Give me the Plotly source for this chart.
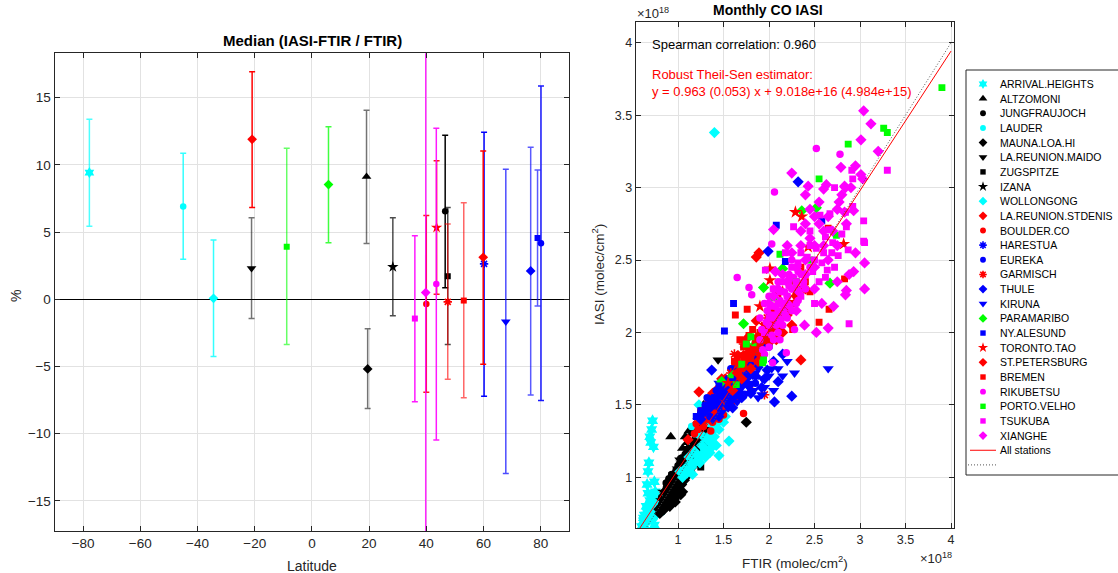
import plotly.graph_objects as go

W, H = 1118, 573
FONT = "Liberation Sans, Arial, sans-serif"
AXC = "#262626"
GRID = "#e2e2e2"

# ---------------- data: left panel (median relative difference, %) ----------------
STATIONS = ["ARRIVAL.HEIGHTS", "ALTZOMONI", "JUNGFRAUJOCH", "LAUDER", "MAUNA.LOA.HI",
            "LA.REUNION.MAIDO", "ZUGSPITZE", "IZANA", "WOLLONGONG", "LA.REUNION.STDENIS",
            "BOULDER.CO", "HARESTUA", "EUREKA", "GARMISCH", "THULE", "KIRUNA",
            "PARAMARIBO", "NY.ALESUND", "TORONTO.TAO", "ST.PETERSBURG", "BREMEN",
            "RIKUBETSU", "PORTO.VELHO", "TSUKUBA", "XIANGHE"]
LATITUDE = [-77.8, 19.1, 46.6, -45.0, 19.5, -21.1, 47.5, 28.3, -34.4, -20.9,
            40.0, 60.2, 80.1, 47.5, 76.5, 67.8, 5.8, 78.9, 43.6, 59.9,
            53.1, 43.5, -8.8, 36.0, 39.8]
MEDIAN = [9.42, 9.12, 6.55, 6.89, -5.19, 2.30, 1.71, 2.40, 0.07, 11.90,
          -0.35, 2.63, 4.17, -0.20, 2.10, -1.67, 8.53, 4.56, 5.33, 3.12,
          -0.10, 1.14, 3.91, -1.44, 0.49]
ERR_HIGH = [13.39, 14.06, 12.20, 10.86, -2.19, 6.07, 6.82, 6.07, 4.41, 16.93,
            6.22, 12.42, 15.87, 5.60, 11.31, 9.67, 12.84, 9.62, 10.31, 11.03,
            7.17, 12.72, 11.23, 4.73, 25.0]
ERR_LOW = [5.43, 4.14, 0.86, 2.97, -8.14, -1.44, -3.38, -1.24, -4.27, 6.82,
           -6.92, -7.22, -7.54, -5.95, -7.12, -12.98, 4.21, -0.50, 0.37, -4.84,
           -7.34, -10.47, -3.38, -7.64, -25.0]

# ---------------- data: right panel (FTIR, IASI) in units of 1e18 molec/cm2 ----------------
ARRIVAL_HEIGHTS = [(0.72, 1.39), (0.71, 1.33), (0.69, 1.28), (0.70, 1.24), (0.73, 1.21), (0.67, 1.04),
                   (0.74, 0.97), (0.67, 0.89), (0.69, 0.84), (0.65, 0.80), (0.63, 0.74), (0.74, 0.67),
                   (0.66, 0.76), (0.70, 0.82), (0.72, 0.87), (0.68, 0.71), (0.64, 0.69), (0.76, 0.80),
                   (0.78, 0.84), (0.62, 0.70), (0.71, 0.78), (0.60, 0.66), (0.62, 0.72), (0.65, 0.74),
                   (0.67, 0.78), (0.69, 0.80), (0.73, 0.85), (0.75, 0.90), (0.63, 0.67), (0.66, 0.71),
                   (0.70, 0.74), (0.68, 1.10), (0.66, 0.95)]
ALTZOMONI = [(0.92, 1.28), (1.10, 1.24), (1.15, 1.30), (1.20, 1.35), (1.25, 1.40), (1.30, 1.44),
             (1.35, 1.48), (1.28, 1.50), (1.22, 1.42), (1.18, 1.36), (1.40, 1.53), (1.12, 1.32),
             (1.05, 1.20), (1.08, 1.28), (1.17, 1.33), (1.26, 1.45), (1.32, 1.50), (1.37, 1.46)]
JUNGFRAUJOCH = [(0.85, 0.90), (0.88, 0.94), (0.92, 0.98), (0.95, 1.01), (0.98, 1.05), (1.02, 1.09),
                (1.05, 1.12), (1.08, 1.16), (1.12, 1.20), (1.15, 1.23), (0.90, 0.99), (1.00, 1.08),
                (1.10, 1.19), (0.87, 0.96), (0.93, 1.02), (0.97, 1.03), (1.03, 1.13), (1.07, 1.14),
                (1.13, 1.22), (0.82, 0.86)]
LAUDER = [(0.72, 0.70), (0.76, 0.74), (0.80, 0.78), (0.84, 0.80), (0.88, 0.84), (0.92, 0.88),
          (0.96, 0.91), (1.00, 0.95), (1.04, 0.99), (1.08, 1.03), (1.12, 1.07), (1.16, 1.10),
          (1.20, 1.14), (1.24, 1.19), (1.28, 1.22), (1.32, 1.26), (0.86, 0.86), (0.94, 0.94),
          (1.02, 1.02), (1.10, 1.10), (1.18, 1.17), (1.26, 1.25), (0.90, 0.82), (0.98, 0.89),
          (1.06, 0.97), (1.14, 1.04), (1.22, 1.12), (1.30, 1.20), (1.36, 1.30), (1.40, 1.35),
          (0.82, 0.76), (1.24, 1.37), (1.30, 1.40), (1.15, 1.35), (0.74, 0.72), (0.78, 0.77),
          (0.83, 0.79), (0.87, 0.83), (0.91, 0.86), (0.95, 0.92), (0.99, 0.96), (1.03, 1.00),
          (1.07, 1.05), (1.11, 1.08), (1.15, 1.12), (1.19, 1.15), (1.23, 1.21), (1.27, 1.26),
          (1.31, 1.29), (1.34, 1.33), (1.20, 1.26), (1.16, 1.22), (1.12, 1.18), (1.27, 1.32)]
MAUNA_LOA = [(0.80, 0.75), (0.83, 0.77), (0.86, 0.80), (0.89, 0.82), (0.92, 0.84), (0.95, 0.87),
             (0.98, 0.90), (1.01, 0.92), (1.04, 0.95), (1.07, 0.98), (1.10, 1.01), (1.13, 1.04),
             (1.17, 1.08), (1.21, 1.12), (0.88, 0.86), (0.94, 0.91), (1.00, 0.97), (1.06, 1.02),
             (1.12, 1.10), (1.25, 1.18), (1.30, 1.24), (0.97, 0.83), (1.03, 0.88), (1.75, 1.38),
             (0.84, 0.82), (1.05, 0.90), (0.79, 0.78), (0.82, 0.80), (0.85, 0.78), (0.87, 0.84),
             (0.90, 0.87), (0.93, 0.88), (0.96, 0.85), (0.99, 0.88), (1.02, 0.98), (1.08, 1.04),
             (1.14, 1.08), (1.18, 1.12), (0.91, 0.80), (0.95, 0.95), (1.00, 1.00), (1.10, 1.06)]
LA_REUNION_MAIDO = [(1.44, 1.81), (1.00, 1.05), (1.05, 1.10), (1.10, 1.15), (1.15, 1.19), (1.20, 1.24),
                    (1.25, 1.28), (1.30, 1.33), (1.35, 1.38), (1.08, 1.14), (1.18, 1.22), (1.28, 1.32),
                    (1.02, 1.12), (1.12, 1.20), (1.22, 1.30), (1.32, 1.40), (1.38, 1.45), (1.26, 1.36)]
ZUGSPITZE = [(0.88, 0.92), (0.92, 0.95), (0.96, 0.99), (1.00, 1.03), (1.04, 1.07), (1.08, 1.11),
             (1.12, 1.15), (1.16, 1.19), (1.20, 1.22), (1.25, 1.07), (0.94, 0.97), (1.06, 1.10),
             (0.90, 0.97), (0.98, 1.03), (1.02, 1.08), (1.10, 1.16), (1.14, 1.20), (1.18, 1.25)]
IZANA = [(0.82, 0.84), (0.86, 0.88), (0.90, 0.92), (0.94, 0.96), (0.98, 1.00), (1.02, 1.04),
         (1.06, 1.08), (1.10, 1.12), (1.14, 1.16), (1.18, 1.20), (1.22, 1.26), (1.00, 1.06),
         (0.84, 0.90), (0.92, 0.95), (0.96, 1.02), (1.04, 1.10), (1.08, 1.14), (1.12, 1.18),
         (1.16, 1.24)]
WOLLONGONG = [(1.05, 1.00), (1.10, 1.03), (1.15, 1.07), (1.20, 1.11), (1.25, 1.15), (1.30, 1.19),
              (1.35, 1.24), (1.40, 1.28), (1.45, 1.33), (1.50, 1.38), (1.56, 1.25), (1.45, 1.15),
              (1.40, 3.38), (1.18, 1.18), (1.28, 1.28), (1.38, 1.36), (1.48, 1.45), (1.22, 1.30),
              (1.33, 1.40), (1.12, 1.14), (1.02, 1.04), (1.42, 1.22), (1.35, 1.17), (1.52, 1.42),
              (1.23, 1.50), (1.28, 1.45), (1.08, 1.06), (1.14, 1.10), (1.20, 1.16), (1.26, 1.22),
              (1.32, 1.26), (1.38, 1.32), (1.44, 1.38), (1.24, 1.10), (1.30, 1.14), (1.36, 1.20),
              (1.16, 1.02)]
LA_REUNION_STDENIS = [(1.23, 1.59), (1.11, 1.26), (1.30, 1.42), (1.35, 1.47), (1.40, 1.52), (1.45, 1.58),
                      (1.50, 1.62), (1.55, 1.66), (1.60, 1.70), (1.65, 1.74), (1.70, 1.78), (1.80, 1.88),
                      (1.86, 2.52), (1.89, 2.55), (1.95, 2.02), (2.35, 1.81), (1.38, 1.58), (1.48, 1.68),
                      (1.32, 1.50), (1.42, 1.60), (1.52, 1.68), (1.62, 1.76), (1.72, 1.84), (1.58, 1.64),
                      (1.68, 1.70)]
BOULDER = [(1.20, 1.37), (1.25, 1.40), (1.30, 1.43), (1.35, 1.45), (1.40, 1.49), (1.45, 1.52),
           (1.50, 1.55), (1.55, 1.58), (1.60, 1.62), (1.65, 1.66), (1.70, 1.70), (1.38, 1.38),
           (1.48, 1.46), (1.58, 1.56), (1.68, 1.73), (1.75, 1.78), (1.42, 1.56), (1.52, 1.61),
           (1.62, 1.66), (1.33, 1.52), (1.28, 1.35), (1.72, 1.44), (1.36, 1.32), (1.45, 1.40),
           (1.55, 1.48), (1.65, 1.55), (1.80, 1.60), (1.25, 1.46), (1.18, 1.30), (1.50, 1.43),
           (1.22, 1.33), (1.27, 1.38), (1.32, 1.40), (1.37, 1.42), (1.42, 1.45), (1.47, 1.50),
           (1.52, 1.52), (1.57, 1.53), (1.62, 1.58), (1.67, 1.62), (1.30, 1.48), (1.35, 1.50),
           (1.40, 1.54), (1.45, 1.58), (1.55, 1.63), (1.60, 1.68), (1.70, 1.66), (1.75, 1.72),
           (1.40, 1.43), (1.60, 1.52)]
HARESTUA = [(1.40, 1.52), (1.50, 1.58), (1.60, 1.63), (1.70, 1.72), (1.80, 1.78), (1.90, 1.88),
            (2.00, 1.95), (1.65, 1.75), (1.75, 1.68), (1.55, 1.52), (1.85, 1.70), (1.45, 1.55),
            (1.62, 1.60), (1.72, 1.76), (1.82, 1.82), (1.58, 1.66)]
EUREKA = [(1.30, 1.50), (1.40, 1.55), (1.50, 1.60), (1.60, 1.65), (1.70, 1.70), (1.80, 1.75),
          (1.45, 1.48), (1.55, 1.68), (1.65, 1.62), (1.75, 1.80), (1.90, 1.85), (2.00, 1.90),
          (1.35, 1.42), (1.85, 1.65), (1.25, 1.44), (1.58, 1.75), (1.32, 1.55), (1.42, 1.60),
          (1.52, 1.64), (1.62, 1.70), (1.72, 1.75), (1.82, 1.80), (1.48, 1.53), (1.68, 1.66)]
GARMISCH = [(1.45, 1.55), (1.55, 1.62), (1.65, 1.70), (1.75, 1.80), (1.85, 1.92), (1.95, 2.00),
            (2.05, 2.10), (1.60, 1.68), (1.80, 1.85), (1.70, 1.75), (1.90, 1.96), (2.00, 2.05),
            (1.95, 1.57), (1.50, 1.50), (1.58, 1.72), (1.68, 1.80), (1.78, 1.90), (1.88, 1.98),
            (1.98, 2.10), (2.08, 2.18), (1.72, 1.68), (1.82, 1.78), (1.62, 1.85), (1.72, 1.92)]
THULE = [(1.25, 1.40), (1.35, 1.48), (1.37, 1.74), (1.45, 1.50), (1.55, 1.55), (1.65, 1.60),
         (1.75, 1.65), (1.85, 1.70), (2.06, 1.52), (2.25, 1.56), (1.95, 1.68), (2.32, 3.04),
         (1.99, 2.56), (1.60, 1.48), (1.70, 1.55), (1.50, 1.62), (2.05, 1.80), (2.15, 1.85),
         (1.28, 1.45), (1.38, 1.52), (1.48, 1.57), (1.58, 1.60), (1.68, 1.64), (1.78, 1.70),
         (1.88, 1.76), (1.98, 1.74), (1.62, 1.56), (1.80, 1.58), (1.92, 1.62), (2.10, 1.66),
         (1.45, 1.42)]
KIRUNA = [(1.30, 1.45), (1.40, 1.50), (1.50, 1.55), (1.60, 1.58), (1.70, 1.62), (1.80, 1.65),
          (1.88, 1.55), (2.00, 1.70), (1.65, 1.52), (1.75, 1.58), (2.10, 1.75), (1.55, 1.48),
          (2.65, 1.75), (1.45, 1.65), (1.95, 1.62), (1.85, 1.72), (2.20, 1.80), (1.35, 1.55),
          (1.62, 1.70), (2.05, 1.60), (1.92, 1.57), (1.33, 1.50), (1.43, 1.55), (1.53, 1.60),
          (1.63, 1.63), (1.73, 1.67), (1.83, 1.60), (1.93, 1.68), (2.03, 1.75), (1.48, 1.45),
          (1.58, 1.52), (1.68, 1.58), (1.78, 1.62), (1.38, 1.40), (2.15, 1.70), (2.28, 1.72)]
PARAMARIBO = [(2.52, 2.86), (2.36, 2.84), (2.15, 2.44), (2.67, 2.34), (1.94, 2.31), (1.72, 2.06),
              (1.69, 1.77), (1.60, 1.70), (2.20, 2.18), (1.85, 1.92), (1.48, 1.66)]
NY_ALESUND = [(1.20, 1.42), (1.30, 1.48), (1.40, 1.55), (1.50, 1.60), (1.60, 1.66), (1.70, 1.72),
              (1.51, 2.01), (1.61, 2.20), (2.08, 2.74), (2.18, 2.49), (1.80, 1.80), (1.90, 1.86),
              (2.00, 1.93), (1.45, 1.63), (1.55, 1.50), (2.58, 2.77), (1.25, 1.46), (1.35, 1.52),
              (1.45, 1.56), (1.55, 1.62), (1.65, 1.68), (1.75, 1.75), (1.85, 1.84), (1.95, 1.90)]
TORONTO_TAO = [(1.55, 1.65), (1.65, 1.78), (1.75, 1.85), (1.85, 1.95), (1.95, 2.05), (2.05, 2.15),
               (2.15, 2.28), (2.25, 2.35), (1.90, 2.18), (2.29, 2.83), (2.36, 2.80), (2.82, 2.61),
               (2.01, 2.44), (2.01, 2.36), (2.10, 2.27), (2.00, 1.98), (1.78, 1.88), (2.43, 2.59)]
ST_PETERSBURG = [(1.60, 1.60), (1.70, 1.68), (1.80, 1.75), (1.90, 1.85), (2.00, 1.93), (2.10, 2.02),
                 (2.20, 2.12), (1.75, 1.82), (1.95, 1.96), (2.05, 2.10), (2.30, 2.25), (1.65, 1.72),
                 (2.40, 2.30), (2.15, 2.00), (2.25, 2.05), (1.72, 1.76), (1.82, 1.86), (1.92, 1.94),
                 (2.02, 2.02), (2.12, 2.10), (2.22, 2.18), (1.88, 1.80), (2.08, 1.95), (1.66, 1.84),
                 (1.76, 1.96), (1.86, 2.08)]
BREMEN = [(1.70, 1.75), (1.80, 1.82), (1.90, 1.90), (2.00, 2.00), (2.10, 2.08), (2.20, 2.15),
          (2.30, 2.25), (2.40, 2.35), (2.45, 2.28), (1.95, 2.05), (2.15, 2.20), (2.35, 2.45),
          (2.83, 2.37), (2.65, 2.72), (1.63, 2.12), (2.66, 2.16), (2.26, 2.02), (1.85, 1.95),
          (2.05, 2.18), (1.76, 2.16), (2.55, 2.07), (1.75, 1.85), (1.85, 1.88), (1.95, 1.95),
          (2.05, 2.05), (2.15, 2.12), (2.25, 2.20), (2.35, 2.30), (2.00, 2.12), (2.10, 2.22),
          (1.90, 2.00), (1.62, 1.80), (1.72, 1.90), (1.82, 2.02), (1.68, 1.95), (1.78, 1.98)]
RIKUBETSU = [(2.06, 2.97), (2.03, 2.61), (1.65, 2.38), (1.78, 2.31), (1.81, 2.26), (2.52, 3.27),
             (2.78, 3.23), (1.90, 1.95), (1.95, 2.00), (2.00, 2.05), (2.05, 2.10),
             (2.10, 2.15), (2.15, 2.20), (2.20, 2.25), (2.25, 2.30), (2.30, 2.35), (2.35, 2.40),
             (1.95, 1.85), (2.05, 1.95), (2.15, 2.05), (2.25, 2.15), (2.19, 1.86), (2.04, 1.79),
             (1.90, 2.10), (2.00, 2.25), (2.10, 2.35), (2.40, 2.30),
             (2.12, 1.95), (2.28, 2.02), (1.98, 2.15), (2.08, 2.05), (2.18, 2.12),
             (2.32, 2.22), (2.22, 2.40), (2.45, 2.45), (1.92, 2.02),
             (1.97, 2.07), (2.02, 2.12), (2.07, 2.18), (2.12, 2.22), (2.17, 2.28), (2.22, 2.32),
             (2.27, 2.38), (2.32, 2.42), (1.93, 1.88), (2.03, 1.98), (2.13, 2.08), (2.23, 2.18),
             (2.33, 2.28), (1.95, 2.20), (2.05, 2.30), (2.15, 2.40), (2.25, 2.50),
             (2.38, 2.35), (2.00, 1.90), (2.10, 2.00), (2.20, 2.10), (2.30, 2.20)]
PORTO_VELHO = [(3.90, 3.69), (3.26, 3.41), (3.30, 3.38), (2.87, 3.30), (2.55, 3.06), (2.74, 2.67),
               (2.12, 2.54), (1.94, 1.81), (1.70, 1.78), (2.05, 2.24), (1.64, 1.64), (1.80, 1.97),
               (1.93, 1.79), (2.30, 2.35), (2.45, 2.50), (1.75, 1.92)]
TSUKUBA = [(3.30, 3.12), (2.91, 3.12), (2.92, 3.06), (2.72, 3.00), (2.92, 2.87), (2.84, 2.83),
           (3.04, 2.77), (2.85, 2.73), (2.67, 2.82), (2.56, 2.81), (3.04, 2.63), (2.87, 2.57),
           (2.69, 2.55), (3.05, 2.62), (2.66, 2.71), (2.76, 2.53), (2.64, 2.43), (2.88, 2.06),
           (2.27, 2.73), (2.45, 2.70), (1.96, 2.43), (2.00, 2.10), (2.10, 2.20), (2.20, 2.25),
           (2.30, 2.35), (2.40, 2.40), (2.50, 2.50), (2.60, 2.55), (2.25, 2.45), (2.35, 2.55),
           (2.15, 2.35), (1.95, 2.00), (2.05, 2.30), (2.45, 2.60), (2.55, 2.35), (2.35, 2.25),
           (2.62, 2.66), (2.50, 2.20), (2.18, 2.55), (2.02, 2.18), (2.12, 2.28), (2.22, 2.38),
           (2.32, 2.48), (2.42, 2.52), (2.52, 2.58), (2.38, 2.33), (2.48, 2.42), (2.58, 2.48),
           (2.28, 2.30), (2.18, 2.20), (2.08, 2.12), (2.70, 2.62), (2.80, 2.68), (2.62, 2.38),
           (2.72, 2.45)]
XIANGHE = [(3.04, 3.53), (3.12, 3.44), (3.01, 3.33), (3.20, 3.25), (2.79, 3.14), (3.01, 3.09),
           (3.03, 3.06), (2.63, 3.02), (2.60, 2.99), (2.84, 3.00), (2.77, 2.90), (2.25, 3.10),
           (2.83, 3.01), (2.93, 2.84), (2.83, 2.83), (2.93, 2.42), (3.05, 2.48), (3.05, 2.30),
           (2.85, 2.29), (2.84, 2.26), (2.71, 2.18), (2.65, 2.03), (2.52, 2.00), (2.39, 2.05),
           (2.05, 2.71), (2.07, 2.42), (2.43, 3.01), (2.00, 2.20), (2.10, 2.30), (2.20, 2.35),
           (2.30, 2.45), (2.40, 2.50), (2.50, 2.60), (2.60, 2.70), (2.20, 2.60), (2.35, 2.70),
           (2.45, 2.85), (2.55, 2.90), (2.65, 2.50), (2.75, 2.60), (2.15, 2.15),
           (2.30, 2.15), (2.50, 2.30), (2.85, 2.75), (2.40, 2.95), (2.05, 2.25),
           (2.15, 2.40), (2.25, 2.55), (2.35, 2.60), (2.45, 2.65), (2.55, 2.75), (2.65, 2.80),
           (2.75, 2.85), (2.30, 2.30), (2.40, 2.40), (2.50, 2.45), (2.60, 2.60), (2.70, 2.70),
           (2.80, 2.95), (2.90, 3.00), (2.95, 2.55), (2.88, 2.40), (2.20, 2.20), (2.10, 2.10),
           (2.58, 2.20), (2.75, 2.35), (2.40, 2.75), (2.50, 2.80), (2.95, 3.15)]

SCATTER_DATA = [ARRIVAL_HEIGHTS, ALTZOMONI, JUNGFRAUJOCH, LAUDER, MAUNA_LOA, LA_REUNION_MAIDO,
                ZUGSPITZE, IZANA, WOLLONGONG, LA_REUNION_STDENIS, BOULDER, HARESTUA, EUREKA,
                GARMISCH, THULE, KIRUNA, PARAMARIBO, NY_ALESUND, TORONTO_TAO, ST_PETERSBURG,
                BREMEN, RIKUBETSU, PORTO_VELHO, TSUKUBA, XIANGHE]

FIT_SLOPE = 0.963
FIT_INTERCEPT = 0.09018   # 9.018e16 in units of 1e18
LINE_X = [0.5, 4.0]

# ---------------- styles ----------------
CY, BK, RD, BL, GR, MG = "#00FFFF", "#000000", "#FF0000", "#0000FF", "#00FF00", "#FF00FF"
COLORS = [CY, BK, BK, CY, BK, BK, BK, BK, CY, RD, RD, BL, BL, RD, BL, BL, GR, BL, RD, RD, RD, MG, GR, MG, MG]
SYMBOLS = ["hexagram", "triangle-up", "circle", "circle", "diamond", "triangle-down", "square",
           "star", "diamond", "diamond", "circle", "asterisk-open", "circle", "asterisk-open",
           "diamond", "triangle-down", "diamond", "square", "star", "diamond", "square", "circle",
           "square", "square", "diamond"]
ERR_ALPHA = [0.7, 0.55, 1.0, 0.8, 0.55, 0.55, 0.7, 0.7, 0.8, 1.0, 0.9, 1.0, 0.9, 0.6, 0.65,
             0.7, 0.75, 0.65, 0.9, 1.0, 0.6, 0.9, 0.6, 0.9, 0.85]
SIZE_BY_SYMBOL = {"circle": 6.5, "square": 6, "diamond": 7.5, "triangle-up": 8.5, "triangle-down": 8.5,
                  "star": 8.5, "hexagram": 8.5, "asterisk-open": 7}


def rgba(hexc, a):
    h = hexc.lstrip("#")
    return "rgba(%d,%d,%d,%.2f)" % (int(h[0:2], 16), int(h[2:4], 16), int(h[4:6], 16), a)


def marker(sym, col, scale=1.0):
    m = dict(symbol=sym, color=col, size=SIZE_BY_SYMBOL[sym] * scale)
    if sym == "asterisk-open":
        m["line"] = dict(color=col, width=1.6)
    else:
        m["line"] = dict(width=0)
    return m


fig = go.Figure()

# ---------------- left panel ----------------
for i, name in enumerate(STATIONS):
    fig.add_trace(go.Scatter(
        x=[LATITUDE[i]], y=[MEDIAN[i]], mode="markers", showlegend=False, name=name,
        xaxis="x", yaxis="y",
        marker=marker(SYMBOLS[i], COLORS[i]),
        error_y=dict(type="data", symmetric=False,
                     array=[ERR_HIGH[i] - MEDIAN[i]], arrayminus=[MEDIAN[i] - ERR_LOW[i]],
                     color=rgba(COLORS[i], ERR_ALPHA[i]), thickness=1.5, width=3),
    ))

# ---------------- right panel ----------------
for i, name in enumerate(STATIONS):
    pts = SCATTER_DATA[i]
    fig.add_trace(go.Scatter(
        x=[p[0] for p in pts], y=[p[1] for p in pts], mode="markers", showlegend=False,
        name=name, xaxis="x2", yaxis="y2", marker=marker(SYMBOLS[i], COLORS[i], 1.15),
    ))

fig.add_trace(go.Scatter(x=LINE_X, y=LINE_X, mode="lines", xaxis="x2", yaxis="y2", showlegend=False,
                         line=dict(color="#555555", width=1, dash="1px,2px")))
fig.add_trace(go.Scatter(x=LINE_X, y=[FIT_SLOPE * v + FIT_INTERCEPT for v in LINE_X], mode="lines",
                         xaxis="x2", yaxis="y2", showlegend=False, line=dict(color=RD, width=1)))

# ---------------- hand-built legend (own small axes, pixel units) ----------------
ROW0, ROWSTEP = 84.0, 14.65
rows = [ROW0 + ROWSTEP * k for k in range(len(STATIONS) + 2)]
for i, name in enumerate(STATIONS):
    fig.add_trace(go.Scatter(x=[983], y=[rows[i]], mode="markers", xaxis="x3", yaxis="y3",
                             showlegend=False, marker=marker(SYMBOLS[i], COLORS[i], 0.9)))
fig.add_trace(go.Scatter(x=[970, 996], y=[rows[-2]] * 2, mode="lines", xaxis="x3", yaxis="y3",
                         showlegend=False, line=dict(color=RD, width=1)))
fig.add_trace(go.Scatter(x=[968, 996], y=[rows[-1]] * 2, mode="lines", xaxis="x3", yaxis="y3",
                         showlegend=False, line=dict(color="#555555", width=1, dash="1px,2px")))

annotations = []
legend_labels = STATIONS + ["All stations"]
for k, lab in enumerate(legend_labels):
    annotations.append(dict(x=998, y=rows[k], xref="x3", yref="y3", text=lab, showarrow=False,
                            xanchor="left", yanchor="middle",
                            font=dict(family=FONT, size=10.5, color="#000000")))


def px(x):
    return x / W


def py(y):
    return 1 - y / H


def note(x, y, text, size, color="#000000", xanchor="center", yanchor="middle", angle=0, bold=False):
    annotations.append(dict(x=px(x), y=py(y), xref="paper", yref="paper", showarrow=False,
                            text=("<b>%s</b>" % text) if bold else text, textangle=angle,
                            xanchor=xanchor, yanchor=yanchor,
                            font=dict(family=FONT, size=size, color=color)))


note(312, 40, "Median (IASI-FTIR / FTIR)", 15, bold=True)
note(312, 566, "Latitude", 14, color=AXC)
note(16, 296, "%", 14, color=AXC, angle=-90)

note(768, 10, "Monthly CO IASI", 14, bold=True)
note(795, 562, "FTIR (molec/cm<sup>2</sup>)", 13.5, color=AXC)
note(598, 275, "IASI (molec/cm<sup>2</sup>)", 13.5, color=AXC, angle=-90)
note(635, 13, "×10<sup>18</sup>", 13, color=AXC, xanchor="left")
note(954, 558, "×10<sup>18</sup>", 13, color=AXC, xanchor="right")
note(650, 44, "Spearman correlation: 0.960", 13, xanchor="left")
note(650, 74, "Robust Theil-Sen estimator:", 13, color=RD, xanchor="left")
note(650, 91, "y = 0.963 (0.053) x + 9.018e+16 (4.984e+15)", 13, color=RD, xanchor="left")


def axis(domain, rng, tickfont_size, **kw):
    d = dict(domain=domain, range=rng, showline=True, linecolor=AXC, linewidth=1, mirror="ticks",
             ticks="inside", ticklen=5, tickcolor=AXC, showgrid=True, gridcolor=GRID, gridwidth=1,
             zeroline=False, fixedrange=True,
             tickfont=dict(family=FONT, size=tickfont_size, color=AXC))
    d.update(kw)
    return d


fig.update_layout(
    width=W, height=H, margin=dict(l=0, r=0, t=0, b=0),
    paper_bgcolor="white", plot_bgcolor="white", showlegend=False,
    xaxis=axis([px(54.5), px(569.3)], [-90, 90], 13.5, tickmode="linear", tick0=-80, dtick=20,
               anchor="y"),
    yaxis=axis([py(531), py(53.3)], [-17.25, 18.3], 13.5, tickmode="linear", tick0=-15, dtick=5,
               zeroline=True, zerolinecolor="#000000", zerolinewidth=1.2, anchor="x"),
    xaxis2=axis([px(635.7), px(954.3)], [0.535, 4.036], 12.5, tickmode="linear", tick0=1, dtick=0.5,
                anchor="y2"),
    yaxis2=axis([py(528), py(22.3)], [0.65, 4.141], 12.5, tickmode="linear", tick0=1, dtick=0.5,
                anchor="x2"),
    xaxis3=dict(domain=[px(960), 1], range=[960, W], visible=False, fixedrange=True, anchor="y3"),
    yaxis3=dict(domain=[py(480), py(65)], range=[480, 65], visible=False, fixedrange=True, anchor="x3"),
    shapes=[dict(type="rect", xref="paper", yref="paper", x0=px(966), x1=1.05, y0=py(475), y1=py(70),
                 line=dict(color=AXC, width=1), fillcolor="rgba(0,0,0,0)", layer="below")],
    annotations=annotations,
)

fig.write_html("out.html")
